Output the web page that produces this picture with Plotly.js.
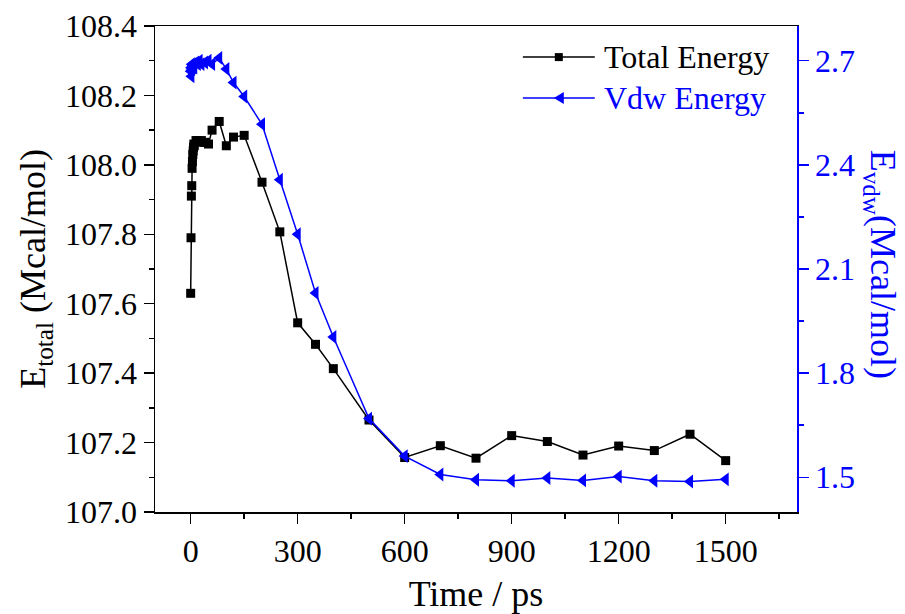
<!DOCTYPE html>
<html>
<head>
<meta charset="utf-8">
<script src="https://cdn.plot.ly/plotly-3.0.1.min.js"></script>
<style>html,body{margin:0;padding:0;background:#fff;}#chart{width:905px;height:614px;}</style>
</head>
<body>
<div id="chart"></div>
<script>
const timePs = [0,1,2,3,4,5,6,7,8,9,10,15,20,25,30,40,50,60,80,100,120,150,200,250,300,350,400,500,600,700,800,900,1000,1100,1200,1300,1400,1500];
const totalEnergy = [107.63,107.79,107.91,107.94,107.99,108.01,108.03,108.04,108.05,108.06,108.055,108.07,108.07,108.065,108.07,108.065,108.06,108.10,108.125,108.055,108.08,108.085,107.95,107.807,107.545,107.483,107.413,107.265,107.157,107.191,107.155,107.220,107.203,107.164,107.190,107.177,107.224,107.148];
const vdwEnergy = [2.67,2.68,2.655,2.69,2.675,2.685,2.68,2.69,2.685,2.69,2.68,2.695,2.69,2.70,2.69,2.695,2.70,2.69,2.708,2.676,2.637,2.597,2.517,2.357,2.2,2.031,1.904,1.669,1.561,1.508,1.493,1.490,1.498,1.491,1.502,1.490,1.488,1.494];
const seriesNames = ['Total Energy','Vdw Energy'];
const xTitle = 'Time / ps';
const yTitle = 'E<sub>total</sub> (Mcal/mol)';
const y2Title = 'E<sub>vdw</sub>(Mcal/mol)';

const FONT = 'Liberation Serif, Times New Roman, serif';
const BLUE = '#0000ff';

const traces = [
  {x: timePs, y: totalEnergy, name: seriesNames[0], type: 'scatter', mode: 'lines+markers',
   line: {color: '#000', width: 1.5}, marker: {symbol: 'square', size: 9, color: '#000'},
   showlegend: false, cliponaxis: false},
  {x: timePs, y: vdwEnergy, name: seriesNames[1], type: 'scatter', mode: 'lines+markers', yaxis: 'y2',
   line: {color: BLUE, width: 1.5}, marker: {symbol: 'triangle-left', size: 12, color: BLUE},
   showlegend: false, cliponaxis: false}
];

// custom legend (paper coordinates)
const legRows = [{y: 0.936, color: '#000', sym: 'square'}, {y: 0.852, color: BLUE, sym: 'tri'}];
const shapes = [];
const annotations = [];
legRows.forEach((r, i) => {
  shapes.push({type: 'line', xref: 'paper', yref: 'paper', x0: 0.573, x1: 0.685, y0: r.y, y1: r.y,
    line: {color: r.color, width: 1.5}});
  if (r.sym === 'square') {
    shapes.push({type: 'rect', xref: 'paper', yref: 'paper', xsizemode: 'pixel', ysizemode: 'pixel',
      xanchor: 0.629, yanchor: r.y, x0: -4, x1: 4, y0: -4, y1: 4,
      fillcolor: r.color, line: {width: 0}});
  } else {
    shapes.push({type: 'path', xref: 'paper', yref: 'paper', xsizemode: 'pixel', ysizemode: 'pixel',
      xanchor: 0.629, yanchor: r.y, path: 'M -5 0 L 5 6 L 5 -6 Z',
      fillcolor: r.color, line: {width: 0}});
  }
  annotations.push({xref: 'paper', yref: 'paper', x: 0.697, y: r.y, xanchor: 'left', yanchor: 'middle',
    text: seriesNames[i], showarrow: false, font: {family: FONT, size: 32, color: r.color}});
});
annotations.push({xref: 'paper', yref: 'paper', x: 1.13, y: 0.51, xanchor: 'center', yanchor: 'middle',
  text: y2Title, textangle: 90, showarrow: false, font: {family: FONT, size: 36, color: BLUE}});

const layout = {
  width: 905, height: 614,
  margin: {l: 155, r: 108, t: 26, b: 102},
  paper_bgcolor: '#fff', plot_bgcolor: '#fff',
  font: {family: FONT, size: 32, color: '#000'},
  showlegend: false,
  xaxis: {
    range: [-100, 1700], tickmode: 'linear', tick0: 0, dtick: 300,
    ticks: 'outside', ticklen: 10, tickwidth: 1.5, tickcolor: '#000',
    minor: {tick0: 0, dtick: 150, ticks: 'outside', ticklen: 5, tickwidth: 1.5, tickcolor: '#000'},
    showgrid: false, zeroline: false, showline: true, linecolor: '#000', linewidth: 1.5, mirror: true,
    tickfont: {family: FONT, size: 32, color: '#000'},
    title: {text: xTitle, font: {family: FONT, size: 36, color: '#000'}, standoff: 14}
  },
  yaxis: {
    range: [107.0, 108.4], tickmode: 'linear', tick0: 107.0, dtick: 0.2, tickformat: '.1f',
    ticks: 'outside', ticklen: 10, tickwidth: 1.5, tickcolor: '#000',
    minor: {dtick: 0.1, ticks: 'outside', ticklen: 5, tickwidth: 1.5, tickcolor: '#000'},
    showgrid: false, zeroline: false, showline: true, linecolor: '#000', linewidth: 1.5,
    tickfont: {family: FONT, size: 32, color: '#000'},
    title: {text: yTitle, font: {family: FONT, size: 36, color: '#000'}, standoff: 8}
  },
  yaxis2: {
    overlaying: 'y', side: 'right',
    range: [1.4, 2.8], tickmode: 'linear', tick0: 1.5, dtick: 0.3, tickformat: '.1f',
    ticks: 'outside', ticklen: 10, tickwidth: 1.5, tickcolor: BLUE,
    minor: {dtick: 0.15, ticks: 'outside', ticklen: 5, tickwidth: 1.5, tickcolor: BLUE},
    showgrid: false, zeroline: false, showline: true, linecolor: BLUE, linewidth: 1.5,
    tickfont: {family: FONT, size: 32, color: BLUE}
  },
  shapes: shapes,
  annotations: annotations
};

Plotly.newPlot('chart', traces, layout, {staticPlot: true, displayModeBar: false});
</script>
</body>
</html>
